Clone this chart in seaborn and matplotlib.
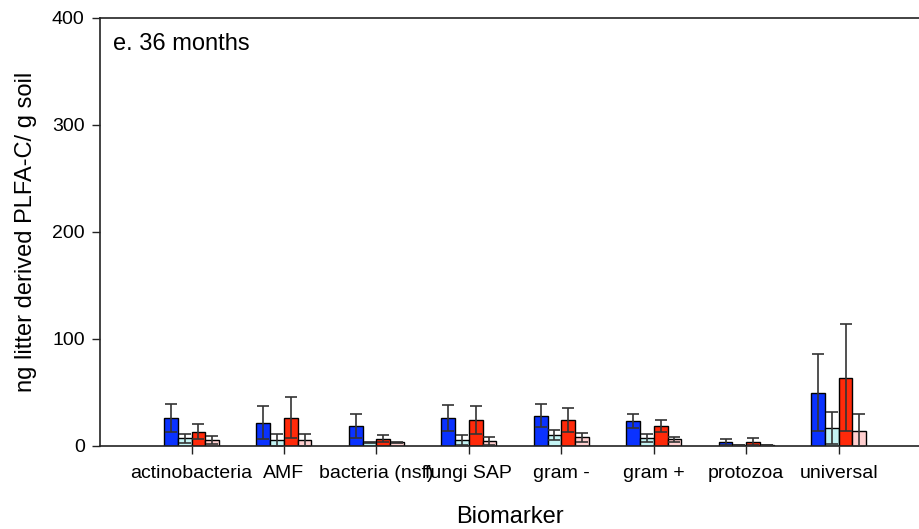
import numpy as np
import pandas as pd
import matplotlib
matplotlib.use("Agg")
import matplotlib.pyplot as plt
import seaborn as sns

# Biomarker groups on the x axis
categories = ["actinobacteria", "AMF", "bacteria (nsf)", "fungi SAP",
              "gram -", "gram +", "protozoa", "universal"]
treatments = ["T1", "T2", "T3", "T4"]
colors = ["#0A32FF", "#C4F4F4", "#FF2A0A", "#FFCFCF"]

# Means and error (+/-) of litter derived PLFA-C for each treatment
t1_mean = [26.5, 21.8, 19.0, 26.2, 28.3, 23.4, 4.0, 49.8]
t1_err = [13.0, 15.6, 11.2, 12.4, 11.0, 6.8, 2.9, 36.0]
t2_mean = [7.0, 5.6, 3.5, 5.6, 10.3, 7.2, 1.0, 16.5]
t2_err = [4.0, 5.6, 0.5, 4.4, 4.7, 3.7, 0.3, 15.0]
t3_mean = [13.4, 26.5, 6.8, 24.3, 24.3, 18.7, 4.0, 63.8]
t3_err = [7.0, 19.0, 3.0, 13.0, 11.0, 5.6, 3.5, 50.0]
t4_mean = [5.6, 5.3, 3.4, 5.0, 8.1, 6.2, 1.0, 14.3]
t4_err = [3.5, 5.6, 0.5, 3.7, 4.4, 2.5, 0.3, 15.3]

y_ticks = [0, 100, 200, 300, 400]

means = [t1_mean, t2_mean, t3_mean, t4_mean]
errs = [t1_err, t2_err, t3_err, t4_err]

df = pd.DataFrame({
    "biomarker": np.tile(categories, len(treatments)),
    "treatment": np.repeat(treatments, len(categories)),
    "value": np.concatenate(means),
})

sns.set_style("white")
plt.rcParams["font.family"] = ["Liberation Sans", "DejaVu Sans"]
plt.rcParams["text.color"] = "black"
plt.rcParams["axes.labelcolor"] = "black"
plt.rcParams["xtick.color"] = "black"
plt.rcParams["ytick.color"] = "black"

fig = plt.figure(figsize=(9.2, 5.29), dpi=100)
ax = fig.add_axes([0.1087, 0.157, 0.8913, 0.809])

sns.barplot(data=df, x="biomarker", y="value", hue="treatment",
            order=categories, hue_order=treatments, palette=colors,
            saturation=1, width=0.595, gap=0, edgecolor="black",
            linewidth=1.0, errorbar=None, legend=False, ax=ax)

# symmetric error bars centred on each bar
for cont, err in zip(ax.containers, errs):
    xs = [b.get_x() + b.get_width() / 2 for b in cont]
    hs = [b.get_height() for b in cont]
    ax.errorbar(xs, hs, yerr=err, fmt="none", ecolor="#333333",
                elinewidth=1.2, capsize=4.2, capthick=1.2, zorder=5)

ax.set_xlim(-0.99, 7.88)
ax.set_ylim(0, 400)
ax.set_yticks(y_ticks)
ax.set_yticklabels([str(v) for v in y_ticks])

for side in ["left", "bottom", "top"]:
    ax.spines[side].set_visible(True)
    ax.spines[side].set_color("#222222")
    ax.spines[side].set_linewidth(1.2)
ax.spines["right"].set_visible(False)

ax.tick_params(axis="y", direction="out", length=6, width=1.0,
               color="#222222", labelcolor="black", labelsize=14, pad=5,
               left=True)
ax.tick_params(axis="x", direction="out", length=6, width=1.0,
               color="#222222", labelcolor="black", labelsize=14, pad=8,
               bottom=True)

ax.set_xlabel("Biomarker", fontsize=17, labelpad=17, color="black")
ax.set_ylabel("ng litter derived PLFA-C/ g soil", fontsize=17, labelpad=11,
              color="black")

ax.text(0.016, 0.965, "e. 36 months", transform=ax.transAxes,
        fontsize=17, ha="left", va="top", color="black")

fig.savefig("out.png", dpi=100)
